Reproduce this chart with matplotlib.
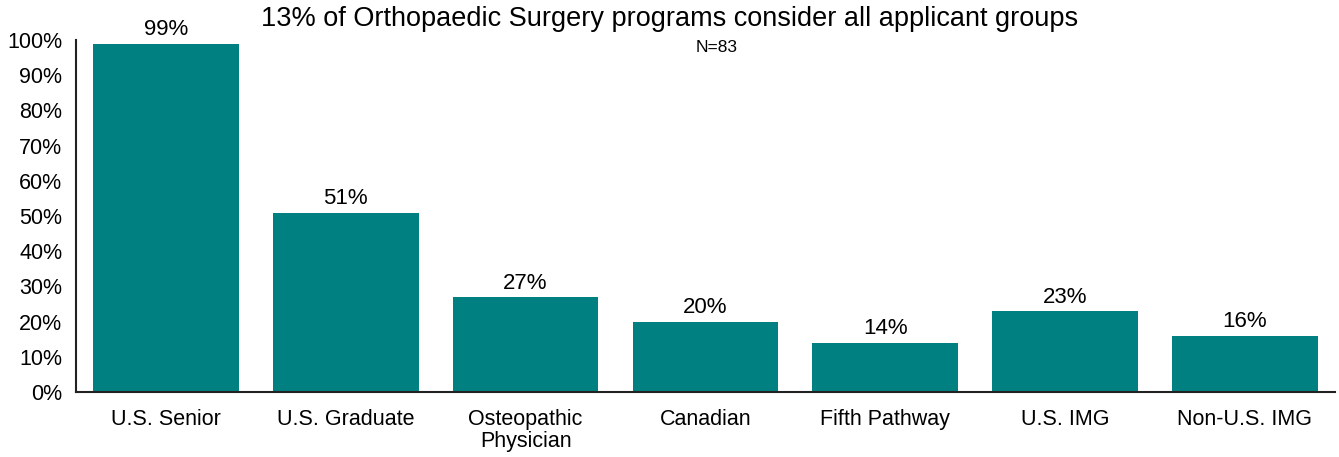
import matplotlib.pyplot as plt
from matplotlib.ticker import PercentFormatter

plt.rcParams['font.family'] = ['Liberation Sans', 'DejaVu Sans']

categories = ["U.S. Senior", "U.S. Graduate", "Osteopathic\nPhysician", "Canadian",
              "Fifth Pathway", "U.S. IMG", "Non-U.S. IMG"]
values = [99, 51, 27, 20, 14, 23, 16]
title = "13% of Orthopaedic Surgery programs consider all applicant groups"
subtitle = "N=83"

teal = "#008080"

fig = plt.figure(figsize=(13.39, 4.57), dpi=100)
ax = fig.add_axes([0.0568, 0.142, 0.94, 0.7705])

x = range(len(categories))
bars = ax.bar(x, values, width=0.81, color=teal)
for b, v in zip(bars, values):
    ax.text(b.get_x() + b.get_width() / 2, v + 1.0, f"{v}%",
            ha="center", va="bottom", fontsize=16)

ax.set_xlim(-0.5, 6.5)
ax.set_ylim(0, 100)
ax.set_yticks(range(0, 101, 10))
ax.yaxis.set_major_formatter(PercentFormatter(decimals=0))
ax.set_xticks(list(x))
ax.set_xticklabels(categories, linespacing=1.05)
ax.tick_params(axis="both", length=0, labelsize=15.5)
ax.tick_params(axis="x", pad=12)
ax.tick_params(axis="y", pad=10)

for s in ["top", "right"]:
    ax.spines[s].set_visible(False)
for s in ["left", "bottom"]:
    ax.spines[s].set_linewidth(1.5)
    ax.spines[s].set_color("#222222")

fig.text(0.5, 0.958, title, ha="center", va="center", fontsize=19.5)
fig.text(0.535, 0.897, subtitle, ha="center", va="center", fontsize=12.5)

fig.savefig("out.png", dpi=100)
